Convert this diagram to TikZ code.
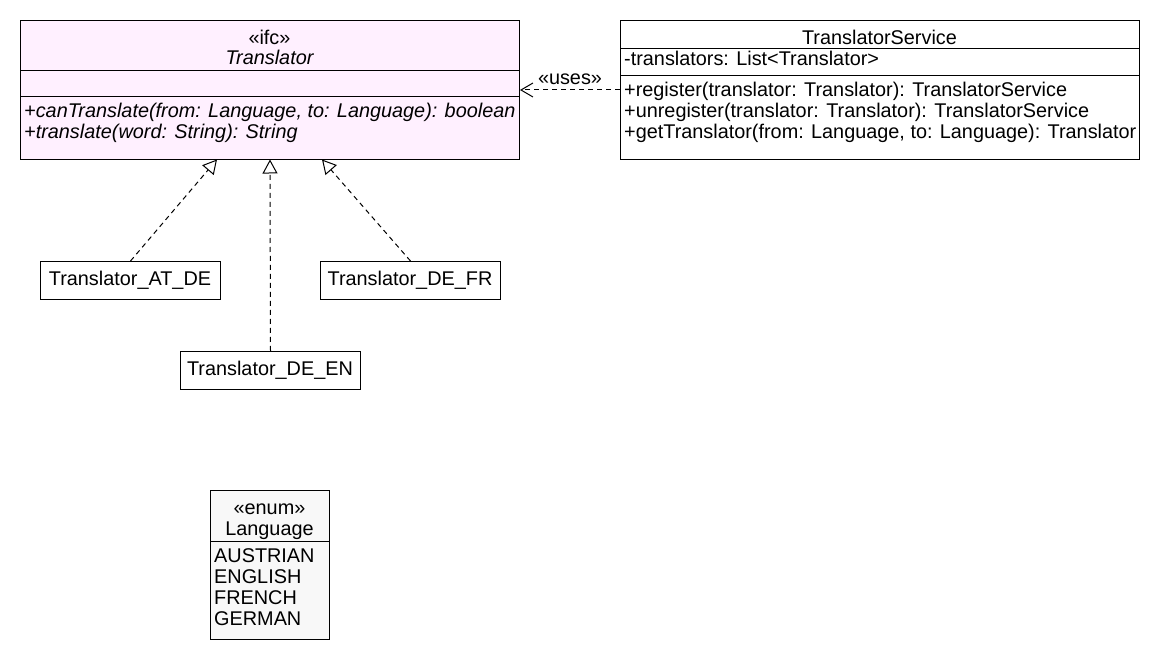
\documentclass[tikz,border=0pt]{standalone}
\usepackage{fontspec}
\setmainfont{Liberation Sans}
\usetikzlibrary{arrows.meta}
\definecolor{ifcpink}{RGB}{255,240,255}
\definecolor{enumgrey}{RGB}{248,248,248}
\begin{document}
\begin{tikzpicture}[x=1pt,y=-1pt,
  every node/.style={font=\fontsize{19.85}{21}\selectfont},
  boxshape/.style={draw=black, line width=1pt, rectangle, inner sep=0pt, anchor=north west},
  txt/.style={inner sep=0pt, anchor=base west, text=black},
  ctxt/.style={inner sep=0pt, anchor=base, text=black},
  sep/.style={draw=black, line width=1pt},
  realiz/.style={draw=black, line width=1pt, dash pattern=on 5pt off 4pt, -{Triangle[open, length=14pt, width=15pt, line width=1pt]}},
  depend/.style={draw=black, line width=1pt, dash pattern=on 5pt off 4pt, -{Straight Barb[length=12pt, width=14pt, line width=1pt]}}
]
\useasboundingbox (0,0) rectangle (1160,660);

% Translator interface
\node[boxshape, fill=ifcpink, minimum width=499pt, minimum height=139pt] (tr) at (20,20) {};
\draw[sep] (20,71) -- (519,71);
\draw[sep] (20,97) -- (519,97);
\node[ctxt] (tr-st) at (269.5,45) {«ifc»};
\node[ctxt] (tr-nm) at (269.5,65) {\itshape Translator};
\node[txt] (tr-m1) at (24,118) {\itshape +canTranslate(from: Language, to: Language): boolean};
\node[txt] (tr-m2) at (24,139) {\itshape +translate(word: String): String};

% TranslatorService
\node[boxshape, fill=white, minimum width=519pt, minimum height=139pt] (ts) at (620,20) {};
\draw[sep] (620,49) -- (1139,49);
\draw[sep] (620,76) -- (1139,76);
\node[ctxt] (ts-nm) at (879.5,45) {TranslatorService};
\node[txt] (ts-a1) at (624,66) {-translators: List<Translator>};
\node[txt] (ts-m1) at (624,97) {+register(translator: Translator): TranslatorService};
\node[txt] (ts-m2) at (624,118) {+unregister(translator: Translator): TranslatorService};
\node[txt] (ts-m3) at (624,139) {+getTranslator(from: Language, to: Language): Translator};

% implementations
\node[boxshape, fill=white, minimum width=180pt, minimum height=38pt] (atde) at (40,261) {};
\node[ctxt] (atde-t) at (130,286) {Translator\_AT\_DE};
\node[boxshape, fill=white, minimum width=180pt, minimum height=38pt] (defr) at (320,261) {};
\node[ctxt] (defr-t) at (410,286) {Translator\_DE\_FR};
\node[boxshape, fill=white, minimum width=180pt, minimum height=38pt] (deen) at (180,351) {};
\node[ctxt] (deen-t) at (270,376) {Translator\_DE\_EN};

% enum Language
\node[boxshape, fill=enumgrey, minimum width=119pt, minimum height=149pt] (lang) at (210,490) {};
\draw[sep] (210,541) -- (329,541);
\node[ctxt] (lang-st) at (269.5,514) {«enum»};
\node[ctxt] (lang-nm) at (269.5,535) {Language};
\node[txt] (lang-v1) at (214,562) {AUSTRIAN};
\node[txt] (lang-v2) at (214,583) {ENGLISH};
\node[txt] (lang-v3) at (214,604) {FRENCH};
\node[txt] (lang-v4) at (214,625) {GERMAN};

% connectors
\coordinate (r1) at (217,159.5);
\coordinate (r2) at (270,159.5);
\coordinate (r3) at (322,159.5);
\draw[realiz] (atde.north) -- (r1);
\draw[realiz] (deen.north) -- (r2);
\draw[realiz] (defr.north) -- (r3);
\draw[depend] (ts.west) -- (tr.east);
\node[ctxt] (uses) at (570,85) {«uses»};
\end{tikzpicture}
\end{document}
